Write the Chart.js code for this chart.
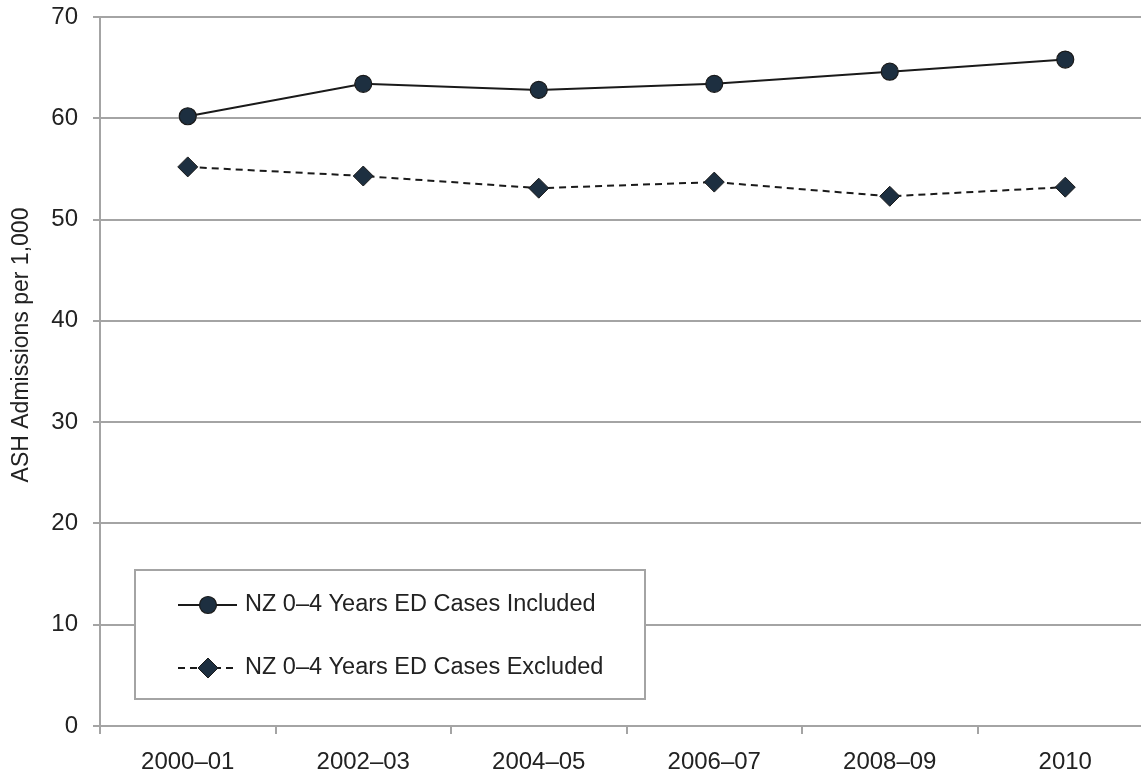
<!DOCTYPE html>
<html>
<head>
<meta charset="utf-8">
<script src="https://cdn.jsdelivr.net/npm/chart.js@4/dist/chart.umd.min.js"></script>
<style>
  html, body { margin: 0; padding: 0; overflow: hidden; background: #ffffff; }
  #wrap { position: relative; width: 1141px; height: 778px; }
</style>
</head>
<body>
<div id="wrap"><canvas id="chart"></canvas></div>
<script>
// ---- Data ----
const categories = ['2000–01', '2002–03', '2004–05', '2006–07', '2008–09', '2010'];
const includedValues = [60.2, 63.4, 62.8, 63.4, 64.6, 65.8];
const excludedValues = [55.2, 54.3, 53.1, 53.7, 52.3, 53.2];
const seriesLabels = ['NZ 0–4 Years ED Cases Included', 'NZ 0–4 Years ED Cases Excluded'];
const yAxisTitle = 'ASH Admissions per 1,000';
const yMin = 0, yMax = 70, yStep = 10;

// ---- Styles ----
const FONT = '"Liberation Sans", Arial, Helvetica, sans-serif';
const TEXT = '#222222';
const GRID = '#a4a4a4';
const LINE = '#1a1a1a';
const MARK = '#1d2f40';

// The original's plot area runs a little past the right edge of the picture.
const extendRight = {
  id: 'extendRight',
  afterLayout(chart) {
    const target = chart.width + 12;
    const x = chart.scales.x;
    const ext = target - x.right;
    x.right += ext;
    x.width += ext;
    x.configure();
    chart.chartArea.right = target;
    chart.chartArea.width = target - chart.chartArea.left;
  }
};

const legendPlugin = {
  id: 'boxLegend',
  afterDraw(chart) {
    const ctx = chart.ctx;
    const area = chart.chartArea;
    // y-axis title (placed slightly above centre, as in the original)
    ctx.save();
    ctx.translate(area.left - 78, area.top + 328);
    ctx.rotate(-Math.PI / 2);
    ctx.fillStyle = TEXT;
    ctx.font = '23px ' + FONT;
    ctx.textAlign = 'center';
    ctx.textBaseline = 'middle';
    ctx.fillText(yAxisTitle, 0, 0);
    ctx.restore();

    const left = area.left + 35, top = area.bottom - 156, w = 510, h = 129;
    ctx.save();
    ctx.fillStyle = '#ffffff';
    ctx.fillRect(left, top, w, h);
    ctx.strokeStyle = GRID;
    ctx.lineWidth = 2;
    ctx.strokeRect(left, top, w, h);
    const rows = [top + 35, top + 98];
    chart.data.datasets.forEach((ds, i) => {
      const y = rows[i];
      ctx.save();
      ctx.strokeStyle = ds.borderColor;
      ctx.lineWidth = ds.borderWidth;
      ctx.setLineDash(ds.borderDash || []);
      ctx.beginPath();
      ctx.moveTo(left + 43, y);
      ctx.lineTo(left + 102, y);
      ctx.stroke();
      ctx.restore();
      ctx.save();
      ctx.fillStyle = ds.pointBackgroundColor;
      ctx.strokeStyle = ds.pointBorderColor;
      ctx.lineWidth = ds.pointBorderWidth;
      Chart.helpers.drawPoint(ctx, {
        pointStyle: ds.pointStyle, radius: ds.pointRadius, rotation: 0, borderWidth: ds.pointBorderWidth
      }, left + 73, y);
      ctx.restore();
      ctx.fillStyle = TEXT;
      ctx.font = '23.5px ' + FONT;
      ctx.textBaseline = 'middle';
      ctx.textAlign = 'left';
      ctx.fillText(ds.label, left + 110, y);
    });
    ctx.restore();
  }
};

new Chart(document.getElementById('chart'), {
  type: 'line',
  data: {
    labels: categories,
    datasets: [
      {
        label: seriesLabels[0],
        data: includedValues,
        borderColor: LINE,
        borderWidth: 2,
        tension: 0,
        pointStyle: 'circle',
        pointRadius: 8.5,
        pointBackgroundColor: MARK,
        pointBorderColor: LINE,
        pointBorderWidth: 1.2
      },
      {
        label: seriesLabels[1],
        data: excludedValues,
        borderColor: LINE,
        borderWidth: 2,
        borderDash: [7, 5],
        tension: 0,
        pointStyle: 'rectRot',
        pointRadius: 10,
        pointBackgroundColor: MARK,
        pointBorderColor: LINE,
        pointBorderWidth: 1
      }
    ]
  },
  options: {
    responsive: true,
    maintainAspectRatio: false,
    animation: false,
    devicePixelRatio: 1,
    layout: { padding: { top: 17, left: 0, right: 0, bottom: 0 } },
    plugins: {
      legend: { display: false },
      tooltip: { enabled: false }
    },
    scales: {
      x: {
        type: 'category',
        offset: true,
        grid: {
          display: true,
          offset: true,
          drawOnChartArea: false,
          drawTicks: true,
          tickLength: 8,
          color: GRID,
          lineWidth: 2
        },
        border: { display: true, color: GRID, width: 2 },
        ticks: {
          color: TEXT,
          font: { family: FONT, size: 24 },
          padding: 14,
          maxRotation: 0,
          autoSkip: false
        },
        afterFit(scale) { scale.height = 52; scale.paddingLeft = 0; scale.paddingRight = 0; }
      },
      y: {
        min: yMin,
        max: yMax,
        grid: {
          color: GRID,
          lineWidth: 2,
          drawTicks: true,
          tickLength: 7
        },
        border: { display: true, color: GRID, width: 2 },
        ticks: {
          stepSize: yStep,
          color: TEXT,
          font: { family: FONT, size: 24 },
          padding: 15
        },
        title: { display: false },
        afterFit(scale) { scale.width = 100; scale.paddingTop = 0; scale.paddingBottom = 0; }
      }
    }
  },
  plugins: [extendRight, legendPlugin]
});
</script>
</body>
</html>
